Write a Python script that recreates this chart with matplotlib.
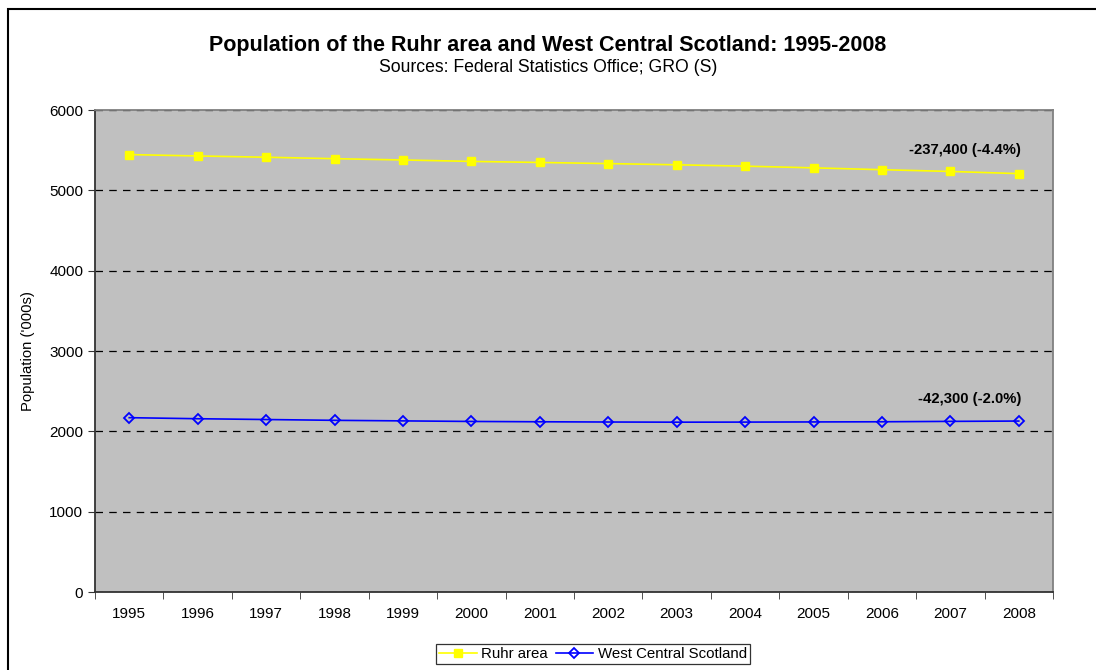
import matplotlib.pyplot as plt
from matplotlib.patches import Rectangle

plt.rcParams['font.family'] = ['Liberation Sans', 'DejaVu Sans']

# Data
years = ["1995", "1996", "1997", "1998", "1999", "2000", "2001",
         "2002", "2003", "2004", "2005", "2006", "2007", "2008"]
ruhr = [5445, 5428, 5412, 5394, 5378, 5360, 5347,
        5333, 5318, 5301, 5280, 5257, 5235, 5208]
wcs = [2170, 2157, 2147, 2137, 2130, 2123, 2119,
       2116, 2114, 2115, 2117, 2119, 2124, 2128]
ruhr_note = "-237,400 (-4.4%)"
wcs_note = "-42,300 (-2.0%)"

fig = plt.figure(figsize=(10.96, 6.70), dpi=100)
ax = fig.add_axes([95 / 1096, 1 - 592 / 670, 958 / 1096, 482 / 670])

# outer frame (left and top visible only)
fig.patches.append(Rectangle((8 / 1096, -0.1), 1.2, 1 - 9 / 670 + 0.1,
                             transform=fig.transFigure, fill=False,
                             edgecolor="black", linewidth=1.5))

x = list(range(len(years)))
ax.set_facecolor("#c0c0c0")
ax.plot(x, ruhr, color="#ffff00", marker="s", markersize=6,
        linewidth=1.2, label="Ruhr area", zorder=3)
ax.plot(x, wcs, color="#0000ff", marker="D", markersize=5,
        markerfacecolor="none", markeredgewidth=1.3,
        linewidth=1.2, label="West Central Scotland", zorder=3)

ax.set_xlim(-0.5, len(years) - 0.5)
ax.set_ylim(0, 6000)
ax.set_yticks(range(0, 6001, 1000))
ax.set_xticks(x)
ax.set_xticklabels(years)
ax.set_xticks([i - 0.5 for i in range(len(years) + 1)], minor=True)
ax.tick_params(axis="x", which="major", length=0, pad=11, labelsize=11)
ax.tick_params(axis="x", which="minor", length=5, color="#333333")
ax.tick_params(axis="y", length=5, color="#333333", labelsize=11)

ax.grid(axis="y", color="black", linestyle=(0, (6, 5)), linewidth=0.9)
ax.set_axisbelow(True)
for s in ["left", "bottom"]:
    ax.spines[s].set_color("#333333")
    ax.spines[s].set_linewidth(1.3)
for s in ["right", "top"]:
    ax.spines[s].set_color("#808080")
    ax.spines[s].set_linewidth(1.3)

ax.set_ylabel("Population ('000s)", fontsize=10.7, labelpad=10)

ax.text(12.22, 5500, ruhr_note, fontsize=10.7, fontweight="bold",
        ha="center", va="center")
ax.text(12.28, 2400, wcs_note, fontsize=10.7, fontweight="bold",
        ha="center", va="center")

fig.text(0.5, 1 - 45 / 670, "Population of the Ruhr area and West Central Scotland: 1995-2008",
         ha="center", va="center", fontsize=15.5, fontweight="bold")
fig.text(0.5, 1 - 67 / 670, "Sources: Federal Statistics Office; GRO (S)",
         ha="center", va="center", fontsize=12.7)

leg = fig.legend(loc="center", bbox_to_anchor=(593 / 1096, 1 - 654 / 670),
                 ncol=2, fontsize=10.8, frameon=True, fancybox=False,
                 edgecolor="black", borderpad=0.2, handlelength=2.5,
                 columnspacing=0.5, handletextpad=0.3)
leg.get_frame().set_linewidth(0.9)

fig.savefig("out.png", dpi=100)
